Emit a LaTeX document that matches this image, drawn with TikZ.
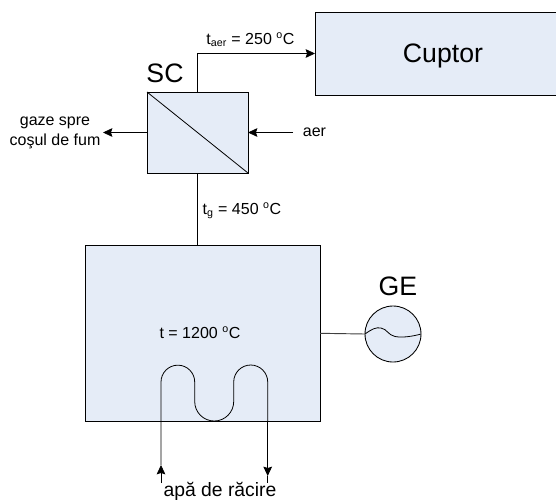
\documentclass[tikz,border=0pt]{standalone}
\usepackage{fontspec}
\setmainfont{Liberation Sans}
\usetikzlibrary{arrows.meta}
\definecolor{boxfill}{HTML}{E5ECF7}
\tikzset{
	unit/.style={draw,fill=boxfill,line width=.65pt,inner sep=0pt,outer sep=0pt},
	small/.style={font=\fontsize{12}{15}\selectfont,align=center,inner sep=0pt},
	big/.style={font=\fontsize{20}{24}\selectfont,inner sep=0pt},
	flow/.style={line width=.6pt,-{Stealth[length=7pt,width=6.5pt,inset=1pt]}}
}
\begin{document}
\begin{tikzpicture}[x=.75pt,y=-.75pt,line width=.6pt]
\useasboundingbox (0,0) rectangle (556,501);
\node (cuptor) [unit,big,text depth=0pt,minimum width=192pt,minimum height=62.25pt] at (443,53.5) {Cuptor};
\node (SC) [unit,minimum width=75.75pt,minimum height=60.75pt] at (197.5,132.5) {};
\node (cazan) [unit,minimum width=175.8pt,minimum height=131.5pt] at (203,333.3) {};
\node (GE) [unit,circle,minimum size=42pt] at (393,334) {};
\node (SClabel) [big] at (165,73) {SC};
\node (GElabel) [big] at (398,286) {GE};
\node (taer) [small] at (250.5,40) {t\textsubscript{aer} = 250 \textsuperscript{o}C};
\node (tg) [small] at (242,211) {t\textsubscript{g} = 450 \textsuperscript{o}C};
\node (t) [small] at (200,333) {t = 1200 \textsuperscript{o}C};
\node (gaze) [small] at (55,133) {gaze spre\\coşul de fum};
\node (aer) [small] at (314.5,132) {aer};
\node (apa) [big,font=\fontsize{14.5}{17}\selectfont] at (220,491.5) {apă de răcire};
\coordinate (gazeout) at (103,132.5);
\coordinate (aerin) at (293,132.5);
\coordinate (apain) at (161,483);
\coordinate (apainh) at (161,465);
\coordinate (apaouth) at (267.7,476);
\coordinate (apaout) at (267.7,483);
\draw (SC.north west) -- (SC.south east);
\draw (SC.south) -- (SC.south |- cazan.north);
\draw[line width=.7pt,black!75] (cazan.east) -- (GE.west);
\path[flow]
(SC.north) edge [to path={|- (\tikztotarget)}] (cuptor.west)
(SC.west) edge (gazeout)
(aerin) edge (SC.east)
(apain) edge (apainh)
(apaout |- cazan.south) edge (apaouth)
;
\draw (apaouth) -- (apaout);
% serpentina
\draw (apainh) -- (161,382) arc (180:0:16.85*.75pt) -- (194.7,401.5) arc (180:360:19.5*.75pt) -- (233.7,382) arc (180:0:17*.75pt) -- (267.7,421);
% sinusoida generatorului
\draw (GE.west) .. controls (372,329) and (376,327) .. (381,328) .. controls (387,329) and (388,335) .. (395,336.5) .. controls (403,338) and (414,336) .. (GE.east);
\end{tikzpicture}
\end{document}
